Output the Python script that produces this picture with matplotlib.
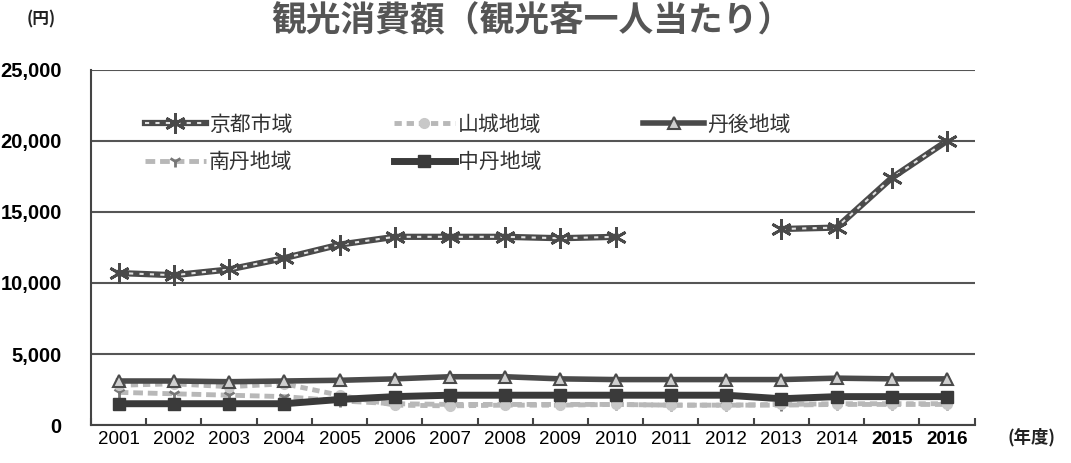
import numpy as np
import matplotlib.pyplot as plt
from matplotlib.legend_handler import HandlerTuple

plt.rcParams['font.family'] = ['Noto Sans CJK JP', 'DejaVu Sans']

years = ['2001', '2002', '2003', '2004', '2005', '2006', '2007', '2008',
         '2009', '2010', '2011', '2012', '2013', '2014', '2015', '2016']
bold_years = ['2015', '2016']

kyoto = [10700, 10550, 10950, 11750, 12700, 13250, 13250, 13250,
         13150, 13250, np.nan, np.nan, 13800, 13900, 17400, 20000]
yamashiro = [2800, 2900, 2700, 2900, 2100, 1400, 1350, 1400,
             1400, 1450, 1400, 1400, 1450, 1500, 1500, 1500]
tango = [3100, 3100, 3050, 3100, 3150, 3250, 3400, 3400,
         3250, 3200, 3200, 3200, 3200, 3300, 3250, 3250]
nantan = [2300, 2200, 2100, 2000, 1700, 1500, 1450, 1450,
          1450, 1450, 1400, 1400, 1400, 1450, 1450, 1450]
chutan = [1500, 1500, 1500, 1500, 1800, 2000, 2100, 2100,
          2100, 2100, 2100, 2100, 1850, 2000, 2000, 2000]

x = np.arange(len(years))

fig = plt.figure(figsize=(10.71, 4.63), dpi=100)
ax = fig.add_axes([0.085, 0.082, 0.825, 0.767])

dark = '#4a4a4a'
light = '#b8b8b8'

# lower regions first
l_nan_a, = ax.plot(x, nantan, color=light, lw=3.5, ls=(0, (2, 1)), zorder=2)
l_nan_b, = ax.plot(x, nantan, ls='none', marker='1', ms=9, mew=2,
                   color='#777777', zorder=3)
l_yam, = ax.plot(x, yamashiro, color=light, lw=3.5, ls=(0, (1.5, 1)),
                 marker='o', ms=7, mfc='#c8c8c8', mec='#c8c8c8', zorder=3)
l_chu, = ax.plot(x, chutan, color='#3a3a3a', lw=5, marker='s', ms=8,
                 mfc='#3a3a3a', mec='#3a3a3a', zorder=4)
l_tan, = ax.plot(x, tango, color=dark, lw=4, marker='^', ms=9,
                 mfc='#cfcfcf', mec=dark, mew=1.5, zorder=4)

# kyoto city: dark line with light dashes inside
l_kyo_a, = ax.plot(x, kyoto, color=dark, lw=4.5, zorder=5)
l_kyo_b, = ax.plot(x, kyoto, color='#e0e0e0', lw=1.5, ls=(0, (2, 3)), zorder=6)
l_kyo_c, = ax.plot(x, kyoto, ls='none', marker=(6, 2, 0), ms=15, mew=2,
                   color=dark, zorder=7)

ax.set_xlim(-0.5, len(years) - 0.5)
ax.set_ylim(0, 25000)
ax.set_yticks(np.arange(0, 25001, 5000))
ax.set_yticklabels([f'{v:,}' for v in range(0, 25001, 5000)],
                   fontfamily='Liberation Sans', fontweight='bold', fontsize=14.5)
ax.grid(axis='y', color='#555555', lw=1.5)
ax.set_axisbelow(True)
ax.tick_params(axis='y', length=0, pad=21)

ax.set_xticks(x)
ax.set_xticklabels(years, fontfamily='Liberation Sans', fontsize=13.5)
for lab in ax.get_xticklabels():
    if lab.get_text() in bold_years:
        lab.set_fontweight('bold')
ax.tick_params(axis='x', length=0, pad=4)
ax.set_xticks(np.arange(-0.5, len(years), 1), minor=True)
ax.tick_params(axis='x', which='minor', direction='in', length=5, width=1.5,
               color='#444444')

for s in ['top', 'right']:
    ax.spines[s].set_visible(False)
for s in ['left', 'bottom']:
    ax.spines[s].set_color('#444444')
    ax.spines[s].set_linewidth(1.5)

# column-major order so rows read 京都 / 山城 / 丹後, then 南丹 / 中丹
handles = [(l_kyo_a, l_kyo_b, l_kyo_c), (l_nan_a, l_nan_b), l_yam, l_chu, l_tan]
labels = ['京都市域', '南丹地域', '山城地域', '中丹地域', '丹後地域']
leg = ax.legend(handles, labels, handler_map={tuple: HandlerTuple(ndivide=1)},
                ncol=3, loc='upper left', bbox_to_anchor=(0.04, 0.93),
                frameon=False, fontsize=15, handlelength=2.9,
                handletextpad=0.15, columnspacing=4.9, labelspacing=0.75,
                labelcolor='#333333')

fig.text(0.497, 0.955, '観光消費額（観光客一人当たり）', ha='center', va='center',
         fontsize=25, fontweight='bold', color='#555555')
fig.text(0.038, 0.958, '(円)', ha='center', va='center', fontsize=12,
         fontweight='bold', color='#222222')
fig.text(0.963, 0.056, '(年度)', ha='center', va='center', fontsize=12.5,
         fontweight='bold', color='#222222')

fig.savefig('out.png', dpi=100)
